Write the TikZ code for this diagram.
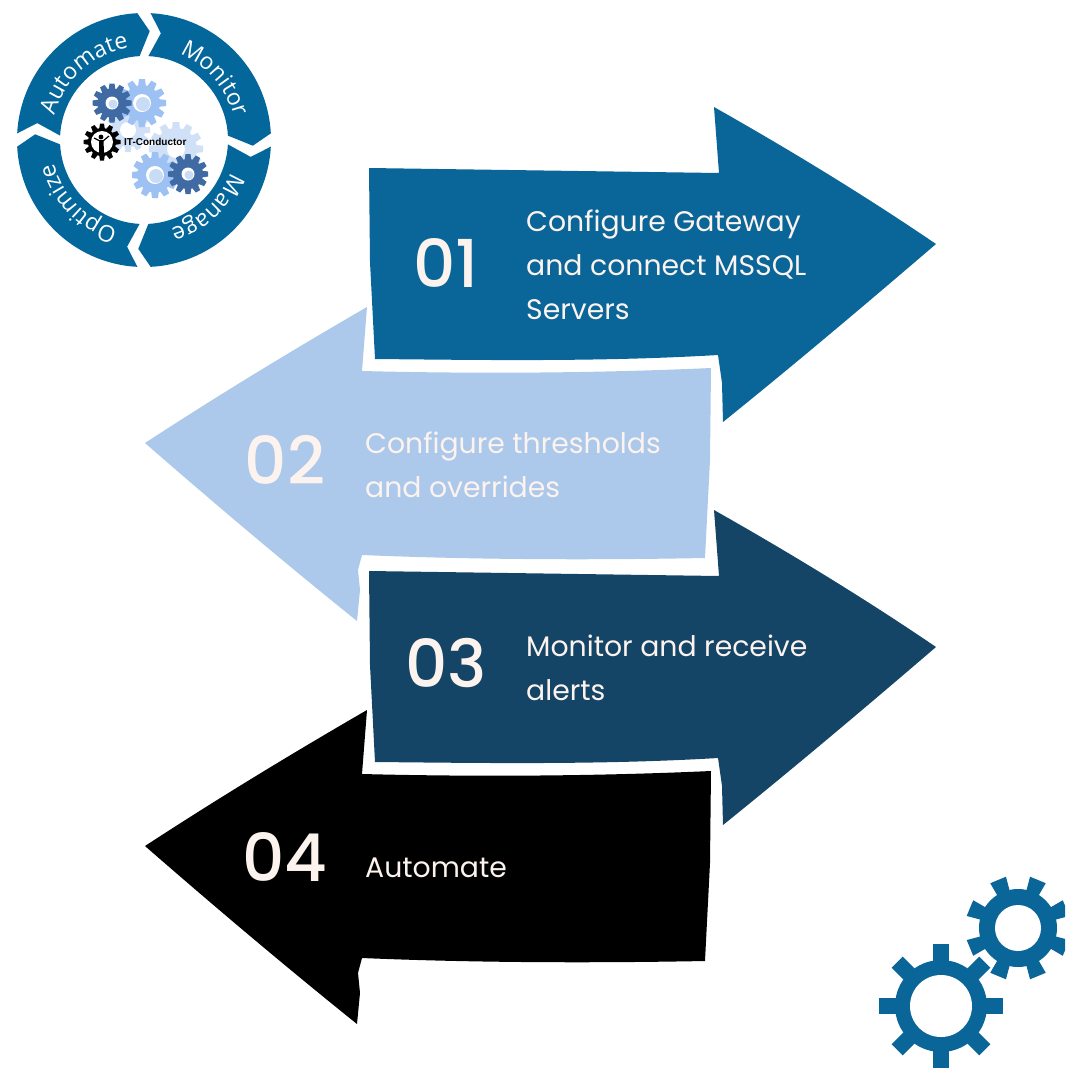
\documentclass[tikz,border=0pt]{standalone}
\usepackage{fontspec}
\setmainfont{Poppins}
\setsansfont{Liberation Sans}
\newfontfamily\ringfont{Open Sans}
\newfontfamily\numfont{Poppins Medium}
\usetikzlibrary{decorations.text}
\definecolor{stepblue}{HTML}{0A6699}
\definecolor{steppale}{HTML}{ACC8EB}
\definecolor{stepnavy}{HTML}{144566}
\definecolor{stepcream}{HTML}{FCF3EE}
\definecolor{ringblue}{HTML}{04679B}
\definecolor{geardark}{HTML}{3F6AA3}
\definecolor{gearlight}{HTML}{9CC1F2}
\definecolor{gearpale}{HTML}{CFE0F7}
\definecolor{gearhole}{HTML}{C9DCF5}
\tikzset{
  pics/rightarrow/.style={code={
    \fill[pic actions] (369,168) -- (719,173) -- (714,107) .. controls (790,150) and (864,195) .. (936,244)
      .. controls (866,304) and (795,364) .. (723,422) -- (722,383) -- (718,355) .. controls (600,362) and (480,360) .. (375,359)
      -- (370,262) -- cycle;
  }},
  pics/leftarrow/.style={code={
    \fill[pic actions] (145,443) .. controls (217,396) and (291,351) .. (367,307) -- (362,371)
      .. controls (480,374) and (600,373) .. (711,368) -- (710,460) -- (705,558) .. controls (600,560) and (480,560) .. (362,555)
      -- (358,570) -- (360,590) -- (357,621) .. controls (286,564) and (215,504) .. cycle;
  }},
  pics/gearwheel/.style n args={6}{code={
    \fill[pic actions] (0,0) circle (#5);
    \foreach \a in {1,...,#1}
      \fill[pic actions,rotate=\a*360/#1] (#5-2,-#2/2) -- (#4,-#3/2) -- (#4,#3/2) -- (#5-2,#2/2) -- cycle;
    \fill[white] (0,0) circle (#6);
  }},
  steptext/.style={text=stepcream,anchor=west,align=left,inner sep=0pt,font=\fontsize{28.3}{44}\selectfont},
  stepnum/.style={text=stepcream,font=\numfont\fontsize{66}{66}\selectfont},
  ringlabel/.style={decorate,decoration={text along path,text align=center,text={|\ringfont\fontsize{23}{23}\selectfont\color{white}|#1}}}
}
\begin{document}
\begin{tikzpicture}[x=1pt,y=-1pt]
\useasboundingbox (0,0) rectangle (1080,1080);
% arrows
\pic[fill=stepblue] (arrow1) at (0,0) {rightarrow};
\pic[fill=steppale] (arrow2) at (0,0) {leftarrow};
\pic[fill=stepnavy] (arrow3) at (0,403) {rightarrow};
\pic[fill=black] (arrow4) at (0,403) {leftarrow};
\node[stepnum] (num1) at (446,263) {01};
\node[stepnum] (num2) at (285,460) {02};
\node[stepnum] (num3) at (446,663) {03};
\node[stepnum] (num4) at (285,857) {04};
\node[steptext] (text1) at (526,265) {Configure Gateway\\and connect MSSQL\\Servers};
\node[steptext] (text2) at (365,465) {Configure thresholds\\and overrides};
\node[steptext] (text3) at (526,668) {Monitor and receive\\alerts};
\node[steptext] (text4) at (365,868) {Automate};
% gears bottom right
\pic[fill=stepblue] (gear1) at (941,1006) {gearwheel={8}{15.7}{15.7}{62}{46}{31}};
\begin{scope}
\clip (950,860) rectangle (1065,1000);
\pic[fill=stepblue,rotate=22.5] (gear2) at (1018,928) {gearwheel={8}{13}{17}{52}{39}{23}};
\end{scope}
% logo ring
\begin{scope}[shift={(144,140)},x=1pt,y=1pt]
\foreach \r/\t/\d in {0/Monitor/4,90/Automate/3,180/Optimize/1,270/Manage/2}{
  \begin{scope}[rotate=\r]
  \fill[ringblue] (87:127) arc[start angle=87,end angle=3,radius=127] -- (-3:109) -- (3:84)
    arc[start angle=3,end angle=87,radius=84] -- (81:108) -- cycle;
  \path[ringlabel=\t] ({90-\d}:93) arc[start angle={90-\d},end angle={-\d},radius=93];
  \end{scope}
}
\end{scope}
% logo gears
\pic[fill=gearpale] (gear3) at (128,130) {gearwheel={12}{7}{5.5}{22}{17}{8}};
\pic[fill=gearpale] (gear4) at (176,149) {gearwheel={12}{8}{6.5}{27}{21}{9}};
\pic[fill=gearlight] (gear5) at (142,103) {gearwheel={12}{8}{6}{24}{18}{9}};
\fill[gearhole] (143,104) circle (7);
\pic[fill=gearlight] (gear6) at (155,175) {gearwheel={12}{8}{6}{23}{17.5}{9}};
\fill[gearhole] (156,176) circle (7);
\pic[fill=geardark] (gear7) at (112,103) {gearwheel={12}{7}{5}{19.5}{14.5}{6.5}};
\fill[gearhole] (113,104) circle (4.5);
\pic[fill=geardark] (gear8) at (188,174) {gearwheel={12}{7}{5}{20}{15}{6.5}};
\fill[gearhole] (189,175) circle (4.5);
\pic[fill=black] (gear9) at (102,142) {gearwheel={12}{6}{4}{18.5}{14}{11}};
% conductor
\fill[black] (101,137) circle (2.4) (99,140) -- (103.5,140) -- (104,153) -- (99,153) -- cycle;
\draw[black,line width=1.2pt] (100,141) -- (94,138) (103,141) -- (109,136);
\node[font=\sffamily\bfseries\fontsize{10}{10}\selectfont,anchor=west,inner sep=0pt] (brand) at (124,142) {IT-Conductor};
\end{tikzpicture}
\end{document}
